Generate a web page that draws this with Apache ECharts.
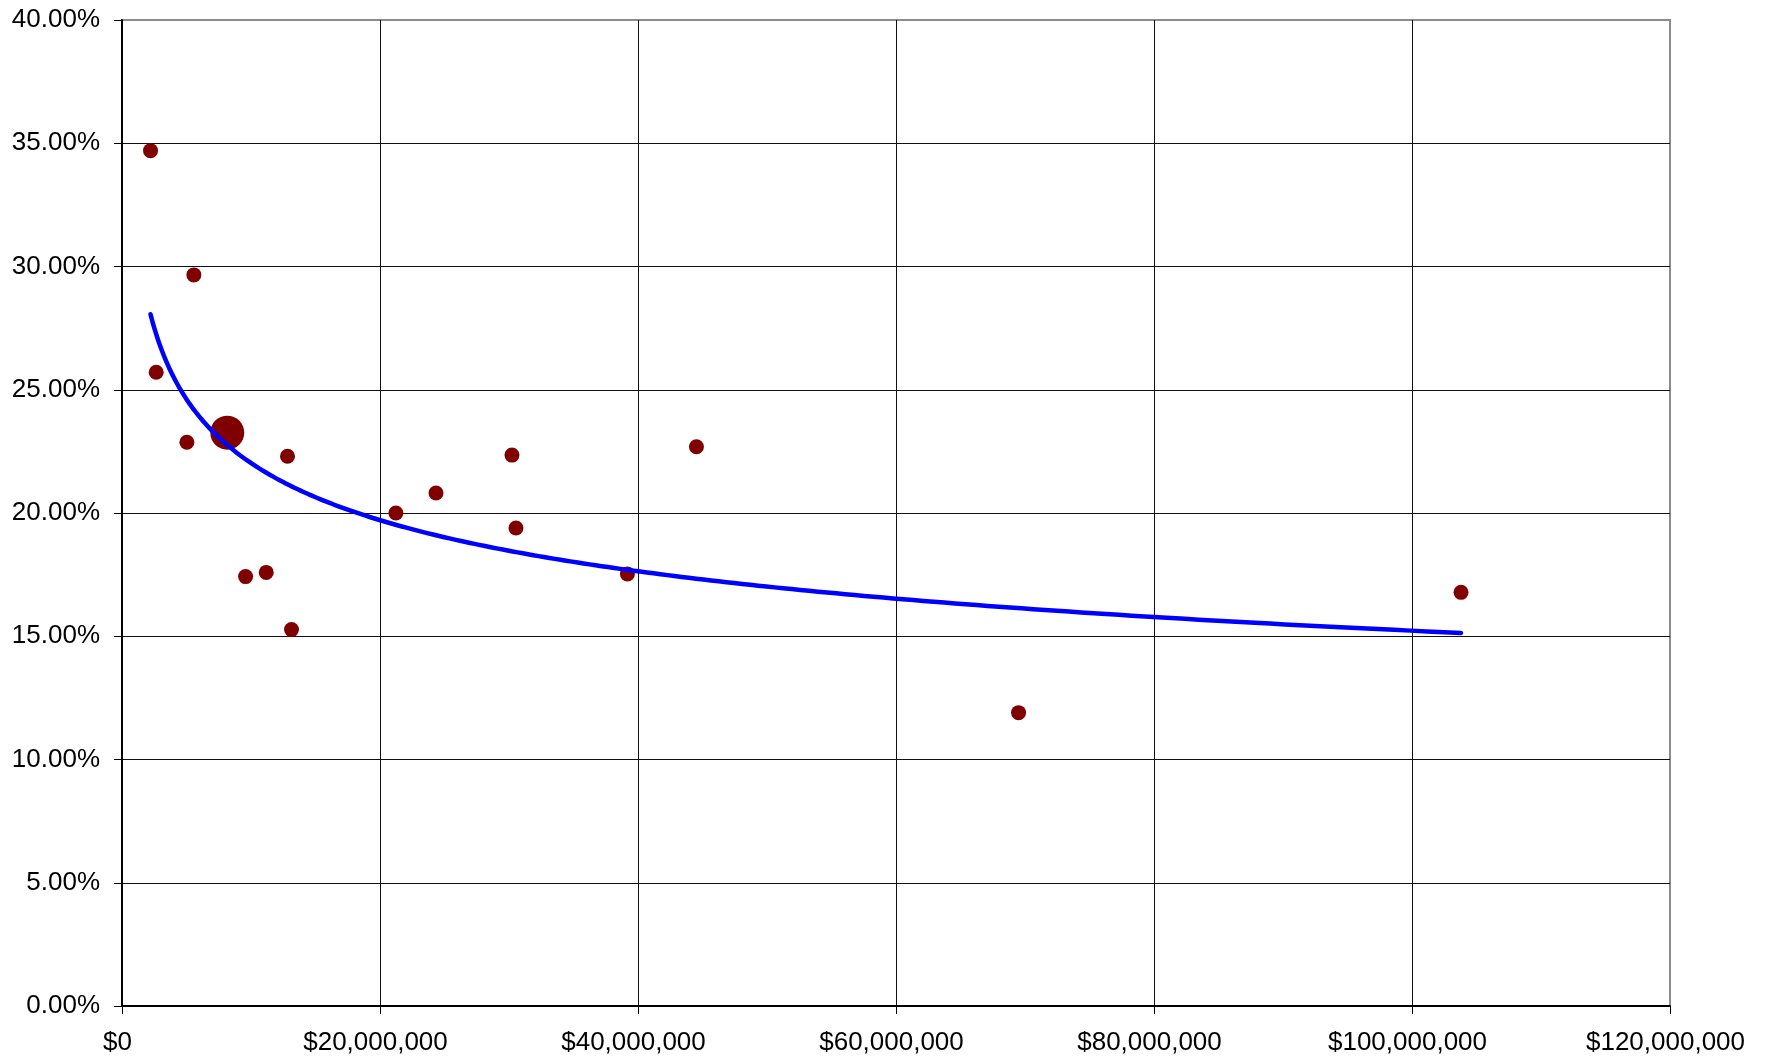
<!DOCTYPE html>
<html>
<head>
<meta charset="utf-8">
<title>Scatter with power trendline</title>
<script src="https://cdn.jsdelivr.net/npm/echarts@6/dist/echarts.min.js"></script>
<style>
  html, body { margin: 0; padding: 0; background: #ffffff; }
  #chart { width: 1769px; height: 1064px; }
</style>
</head>
<body>
<div id="chart"></div>
<script>
// Observations: x in dollars, y in percent
const xValues = [
  2210000, 2650000, 5030000, 5570000, 8160000, 9580000, 11180000, 12830000, 13140000,
  21230000, 24340000, 30230000, 30540000, 39180000, 44530000, 69500000, 103800000
];
const yValues = [
  34.70, 25.71, 22.87, 29.66, 23.26, 17.42, 17.59, 22.30, 15.27,
  20.00, 20.81, 22.35, 19.39, 17.53, 22.69, 11.90, 16.78
];
// Index of the emphasised (larger) observation
const focusIndex = 4;

// Axis ticks
const xTicks = [0, 20000000, 40000000, 60000000, 80000000, 100000000, 120000000];
const yTicks = [0, 5, 10, 15, 20, 25, 30, 35, 40];

// Least-squares power fit y = c * x^p, done on ln(x), ln(y)
function powerFit(xs, ys) {
  const n = xs.length;
  const lx = xs.map(Math.log), ly = ys.map(Math.log);
  const mx = lx.reduce((a, b) => a + b, 0) / n;
  const my = ly.reduce((a, b) => a + b, 0) / n;
  let sxy = 0, sxx = 0;
  for (let i = 0; i < n; i++) {
    sxy += (lx[i] - mx) * (ly[i] - my);
    sxx += (lx[i] - mx) * (lx[i] - mx);
  }
  const p = sxy / sxx;
  const c = Math.exp(my - p * mx);
  return { c, p };
}
const fit = powerFit(xValues, yValues);
const xMin = Math.min(...xValues), xMax = Math.max(...xValues);
const trend = [];
const steps = 300;
for (let i = 0; i <= steps; i++) {
  const x = Math.exp(Math.log(xMin) + (Math.log(xMax) - Math.log(xMin)) * i / steps);
  trend.push([x, fit.c * Math.pow(x, fit.p)]);
}

const points = xValues.map((x, i) => ({
  value: [x, yValues[i]],
  symbolSize: i === focusIndex ? 34 : 15
}));

const fontFamily = '"Liberation Sans", Arial, sans-serif';

const chart = echarts.init(document.getElementById('chart'), null, { renderer: 'canvas' });
chart.setOption({
  animation: false,
  backgroundColor: '#ffffff',
  grid: {
    left: 122, top: 20, width: 1548, height: 986,
    show: true, borderColor: '#8c8c8c', borderWidth: 2, backgroundColor: '#ffffff'
  },
  xAxis: {
    type: 'value',
    min: xTicks[0], max: xTicks[xTicks.length - 1], interval: xTicks[1] - xTicks[0],
    axisLine: { show: true, onZero: false, lineStyle: { color: '#000', width: 2 } },
    axisTick: { show: true, inside: false, length: 8, lineStyle: { color: '#000', width: 1 } },
    splitLine: { show: true, showMinLine: false, showMaxLine: false, lineStyle: { color: '#111', width: 1 } },
    axisLabel: {
      show: true, margin: 24, color: '#000', fontSize: 26, fontFamily,
      padding: [0, 9, 0, 0],
      formatter: v => '$' + Math.round(v).toLocaleString('en-US')
    }
  },
  yAxis: {
    type: 'value',
    min: yTicks[0], max: yTicks[yTicks.length - 1], interval: yTicks[1] - yTicks[0],
    axisLine: { show: true, onZero: false, lineStyle: { color: '#000', width: 2 } },
    axisTick: { show: true, inside: false, length: 8, lineStyle: { color: '#000', width: 1 } },
    splitLine: { show: true, showMinLine: false, showMaxLine: false, lineStyle: { color: '#111', width: 1 } },
    axisLabel: {
      show: true, margin: 22, color: '#000', fontSize: 26, fontFamily,
      formatter: v => v.toFixed(2) + '%'
    }
  },
  series: [
    {
      type: 'scatter',
      data: points,
      symbol: 'circle',
      itemStyle: { color: '#800000', opacity: 1 },
      z: 2
    },
    {
      type: 'line',
      data: trend,
      showSymbol: false,
      smooth: false,
      lineStyle: { color: '#0000ff', width: 4.5, cap: 'round', join: 'round' },
      z: 3
    }
  ]
});
</script>
</body>
</html>
